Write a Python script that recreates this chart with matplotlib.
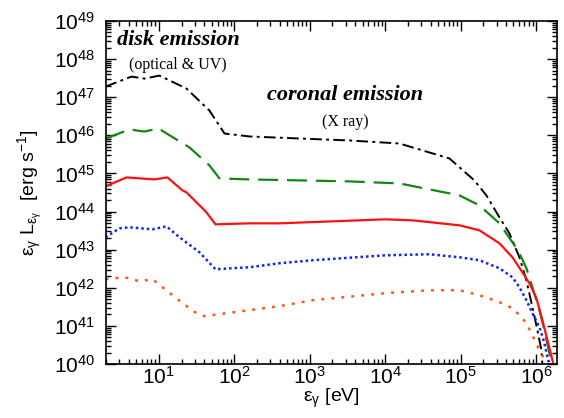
import numpy as np
import matplotlib
matplotlib.use("Agg")
import matplotlib.pyplot as plt
from matplotlib.ticker import LogLocator, NullFormatter

plt.rcParams['font.family'] = 'Liberation Sans'
plt.rcParams['mathtext.fontset'] = 'custom'
plt.rcParams['mathtext.rm'] = 'Liberation Sans'
plt.rcParams['mathtext.it'] = 'Liberation Sans:italic'

# values, stored as log10(energy [eV]) and log10(L [erg/s])
black_logE = [0.294, 0.638, 0.811, 1.009, 1.367, 1.671, 1.870, 2.201, 2.864, 3.526, 4.188,
              4.850, 5.181, 5.340, 5.513, 5.645, 5.778, 5.870, 5.950, 6.016, 6.069, 6.082]
black_logL = [47.277, 47.539, 47.487, 47.565, 47.225, 46.649, 46.047, 45.969, 45.916, 45.864, 45.785,
              45.393, 44.817, 44.424, 43.848, 43.429, 42.801, 42.199, 41.492, 40.890, 40.366, 40.0]

green_logE = [0.294, 0.612, 0.811, 0.996, 1.407, 1.671, 1.804, 2.201, 2.864, 3.526, 4.188,
              4.983, 5.248, 5.513, 5.685, 5.778, 5.870, 5.950, 6.043, 6.109, 6.175, 6.202]
green_logL = [45.916, 46.152, 46.099, 46.178, 45.681, 45.209, 44.869, 44.843, 44.817, 44.791, 44.738,
              44.424, 44.162, 43.691, 43.194, 42.906, 42.513, 42.016, 41.414, 40.890, 40.288, 40.0]

red_logE = [0.294, 0.572, 0.943, 1.115, 1.314, 1.367, 1.580, 1.632, 1.751, 2.201, 2.599, 4.003, 4.360,
            4.983, 5.248, 5.513, 5.685, 5.817, 5.910, 6.003, 6.082, 6.149, 6.228]
red_logL = [44.660, 44.895, 44.843, 44.895, 44.555, 44.503, 44.084, 43.979, 43.665, 43.691, 43.691, 43.796, 43.770,
            43.639, 43.508, 43.168, 42.801, 42.408, 42.120, 41.728, 41.152, 40.628, 40.0]

blue_logE = [0.294, 0.479, 0.612, 0.917, 1.102, 1.274, 1.539, 1.751, 2.201, 2.599, 3.036, 4.003,
             4.585, 4.983, 5.248, 5.513, 5.685, 5.778, 5.870, 5.950, 6.043, 6.109, 6.149, 6.175]
blue_logL = [43.325, 43.560, 43.586, 43.534, 43.613, 43.325, 42.932, 42.487, 42.539, 42.644, 42.723, 42.853,
             42.880, 42.801, 42.723, 42.513, 42.277, 42.016, 41.675, 41.335, 40.969, 40.550, 40.183, 40.0]

orange_logE = [0.294, 0.546, 0.744, 0.917, 1.049, 1.314, 1.499, 1.605, 2.201, 2.599, 3.036, 4.003,
               4.585, 4.983, 5.248, 5.513, 5.685, 5.778, 5.870, 5.950, 6.043, 6.135]
orange_logL = [42.225, 42.277, 42.173, 42.225, 42.016, 41.597, 41.335, 41.257, 41.414, 41.518, 41.675, 41.859,
               41.937, 41.937, 41.806, 41.623, 41.466, 41.283, 41.073, 40.759, 40.366, 40.052]

fig = plt.figure(figsize=(5.64, 4.18), dpi=100)
ax = fig.add_axes([0.188, 0.129, 0.800, 0.821])

def pl(le, ll, **kw):
    ax.plot(10 ** np.array(le), 10 ** np.array(ll), **kw)

pl(black_logE, black_logL, color='black', lw=1.4, dashes=(6, 2.2, 1.5, 2.2))
pl(green_logE, green_logL, color='#118811', lw=1.6, dashes=(9, 4))
pl(red_logE, red_logL, color='#ff1010', lw=1.6)
pl(blue_logE, blue_logL, color='#1020ff', lw=1.8, dashes=(1, 1.2))
pl(orange_logE, orange_logL, color='#ff5a1a', lw=1.8, dashes=(1.2, 2.8))

ax.set_xscale('log')
ax.set_yscale('log')
ax.set_xlim(2, 1.9e6)
ax.set_ylim(1e40, 1e49)

ax.yaxis.set_major_locator(LogLocator(base=10, numticks=20))
ax.yaxis.set_minor_locator(LogLocator(base=10, subs=np.arange(2, 10), numticks=100))
ax.yaxis.set_minor_formatter(NullFormatter())
ax.xaxis.set_major_locator(LogLocator(base=10, numticks=20))
ax.xaxis.set_minor_locator(LogLocator(base=10, subs=np.arange(2, 10), numticks=100))
ax.xaxis.set_minor_formatter(NullFormatter())

ax.tick_params(which='both', direction='in', top=True, right=True, width=1.0)
ax.tick_params(which='major', length=7, labelsize=15)
ax.tick_params(axis='y', which='major', pad=8)
ax.tick_params(axis='x', which='major', pad=1.5)
ax.tick_params(which='minor', length=3.5)
for s in ax.spines.values():
    s.set_linewidth(1.2)

ax.set_xlabel(r'$\mathrm{ε}_\mathrm{γ}$ [eV]', fontsize=14, labelpad=-1)
ax.set_ylabel(r'$\mathrm{ε}_\mathrm{γ}$ L$_{\mathrm{ε}_\mathrm{γ}}$  [erg s$^{-1}$]', fontsize=14, labelpad=6)

serif = 'Liberation Serif'
ax.text(0.024, 0.945, 'disk emission', transform=ax.transAxes, family=serif,
        style='italic', weight='bold', fontsize=16, va='center', ha='left')
ax.text(0.16, 0.872, '(optical & UV)', transform=ax.transAxes, family=serif,
        fontsize=11.5, va='center', ha='center')
ax.text(0.53, 0.784, 'coronal emission', transform=ax.transAxes, family=serif,
        style='italic', weight='bold', fontsize=16, va='center', ha='center')
ax.text(0.53, 0.706, '(X ray)', transform=ax.transAxes, family=serif,
        fontsize=11.5, va='center', ha='center')

fig.savefig('out.png', dpi=100)
